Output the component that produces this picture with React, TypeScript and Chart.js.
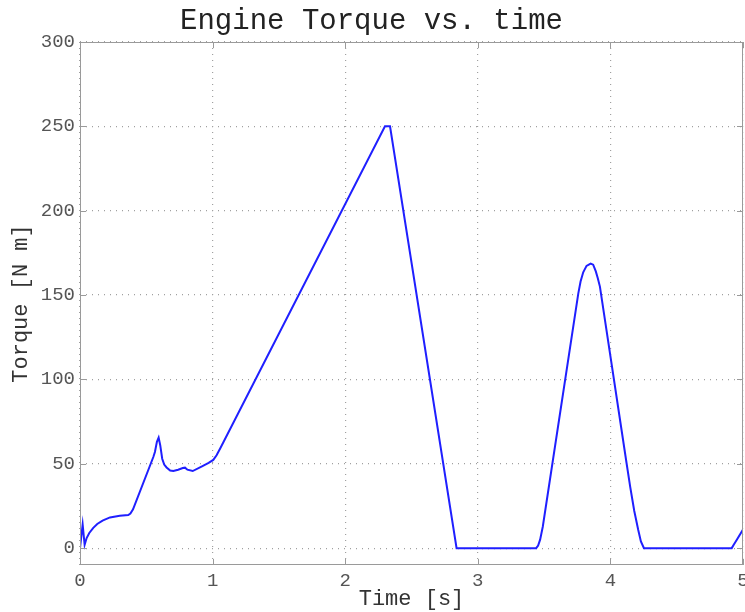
import React, { useEffect, useRef } from "react";
import { Chart, registerables } from "chart.js";

Chart.register(...registerables);

const times = [0, 0.02, 0.035, 0.05, 0.07, 0.1, 0.13, 0.17, 0.226, 0.3, 0.364, 0.38, 0.4, 0.553, 0.565, 0.58, 0.593, 0.605, 0.62, 0.635, 0.653, 0.68, 0.704, 0.74, 0.775, 0.792, 0.81, 0.85, 0.92, 0.97, 1.005, 1.03, 1.06, 2.3, 2.338, 2.84, 3.44, 3.455, 3.47, 3.49, 3.758, 3.775, 3.795, 3.82, 3.851, 3.87, 3.89, 3.905, 3.921, 4.122, 4.15, 4.18, 4.21, 4.23, 4.253, 4.915, 4.93, 4.95, 5.0];
const torque = [0, 14, 2, 6, 9, 12, 14.3, 16.3, 18.2, 19.2, 19.6, 20.5, 23, 54, 57, 63, 65.5, 61, 53, 49.5, 47.8, 46, 45.7, 46.5, 47.5, 47.7, 46.5, 45.7, 48.5, 50.5, 52.3, 55, 59.5, 250, 250, 0, 0, 1.5, 5, 12.7, 151, 158, 163.5, 167.3, 168.7, 168, 164, 160, 155, 50.3, 36, 22, 10.7, 4, 0, 0, 2, 4.5, 11];
const xTicks = [0, 1, 2, 3, 4, 5];
const yTicks = [0, 50, 100, 150, 200, 250, 300];

const titleText = "Engine Torque vs. time";
const xTitle = "Time [s]";
const yTitle = "Torque [N m]";

const MONO = "'Liberation Mono', 'Courier New', monospace";

export default function App() {
  const ref = useRef<HTMLCanvasElement | null>(null);
  useEffect(() => {
    document.body.style.margin = "0";
    const canvas = ref.current;
    if (!canvas) return;
    const framePlugin = {
      id: "frame",
      afterDraw(chart: any) {
        const { ctx, chartArea } = chart;
        const { left, right, top, bottom } = chartArea;
        ctx.save();
        ctx.strokeStyle = "#9a9a9a";
        ctx.lineWidth = 1;
        ctx.strokeRect(left + 0.5, top + 0.5, right - left - 1, bottom - top - 1);
        const xs = chart.scales.x;
        const ys = chart.scales.y;
        const tl = 6;
        ctx.beginPath();
        xTicks.forEach((v) => {
          const px = Math.round(xs.getPixelForValue(v)) + 0.5;
          ctx.moveTo(px, bottom);
          ctx.lineTo(px, bottom - tl);
          ctx.moveTo(px, top);
          ctx.lineTo(px, top + tl);
        });
        yTicks.forEach((v) => {
          const py = Math.round(ys.getPixelForValue(v)) + 0.5;
          ctx.moveTo(left, py);
          ctx.lineTo(left + tl, py);
          ctx.moveTo(right, py);
          ctx.lineTo(right - tl, py);
        });
        ctx.stroke();
        ctx.restore();
      },
    };
    const chart = new Chart(canvas, {
      type: "line",
      data: {
        datasets: [
          {
            data: times.map((t, i) => ({ x: t, y: torque[i] })),
            borderColor: "#1f1fff",
            borderWidth: 2,
            pointRadius: 0,
            tension: 0,
            fill: false,
          },
        ],
      },
      options: {
        responsive: false,
        animation: false,
        layout: { padding: { top: 0, right: 2, bottom: 0, left: 0 } },
        plugins: {
          legend: { display: false },
          tooltip: { enabled: false },
          title: {
            display: true,
            text: titleText,
            color: "#222",
            font: { family: MONO, size: 29, weight: "normal" },
            padding: { top: 4, bottom: 3.2 },
          },
        },
        scales: {
          x: {
            type: "linear",
            min: 0,
            max: 5,
            afterBuildTicks: (s: any) => {
              s.ticks = xTicks.map((v) => ({ value: v }));
            },
            afterFit: (s: any) => {
              s.height = 47;
              s.paddingLeft = 0;
              s.paddingRight = 0;
            },
            border: { display: false, dash: [1, 5] },
            grid: {
              color: "#a0a0a0",
              lineWidth: 1.2,
              drawTicks: false,
            },
            ticks: {
              color: "#555",
              font: { family: MONO, size: 19 },
              padding: 5,
              maxRotation: 0,
              autoSkip: false,
            },
            title: {
              display: true,
              text: xTitle,
              color: "#333",
              font: { family: MONO, size: 22 },
              padding: { top: 0, bottom: 0 },
            },
          },
          y: {
            type: "linear",
            min: -10,
            max: 300,
            afterBuildTicks: (s: any) => {
              s.ticks = yTicks.map((v) => ({ value: v }));
            },
            afterFit: (s: any) => {
              s.width = 80;
              s.paddingTop = 0;
              s.paddingBottom = 0;
            },
            border: { display: false, dash: [1, 5] },
            grid: {
              color: "#a0a0a0",
              lineWidth: 1.2,
              drawTicks: false,
            },
            ticks: {
              color: "#555",
              font: { family: MONO, size: 19 },
              padding: 5,
              autoSkip: false,
            },
            title: {
              display: true,
              text: yTitle,
              color: "#333",
              font: { family: MONO, size: 22 },
              padding: { top: 8, bottom: 0 },
            },
          },
        },
      } as any,
      plugins: [framePlugin],
    });
    return () => chart.destroy();
  }, []);
  return (
    <div style={{ width: 745, height: 612 }}>
      <canvas ref={ref} width={745} height={612} style={{ display: "block" }} />
    </div>
  );
}
